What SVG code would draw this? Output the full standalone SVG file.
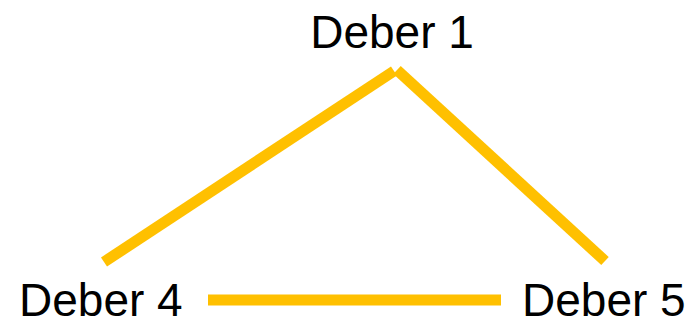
<svg xmlns="http://www.w3.org/2000/svg" width="692" height="320" viewBox="0 0 692 320">
<style>
.lbl{font-family:"Liberation Sans",Arial,sans-serif;font-size:46px;fill:#000}
.edge{stroke:#FFC000;stroke-width:11;fill:none;stroke-linecap:butt}
</style>
<rect width="692" height="320" fill="#fff"/>
<g id="connectors">
<line class="edge" x1="104" y1="262" x2="394" y2="71"/>
<line class="edge" x1="397" y1="70" x2="605" y2="261"/>
<line class="edge" x1="208" y1="300" x2="501" y2="300"/>
</g>
<g id="node1"><text class="lbl" x="392" y="48" text-anchor="middle">Deber 1</text></g>
<g id="node4"><text class="lbl" x="19" y="316">Deber 4</text></g>
<g id="node5"><text class="lbl" x="522" y="316">Deber 5</text></g>
</svg>
